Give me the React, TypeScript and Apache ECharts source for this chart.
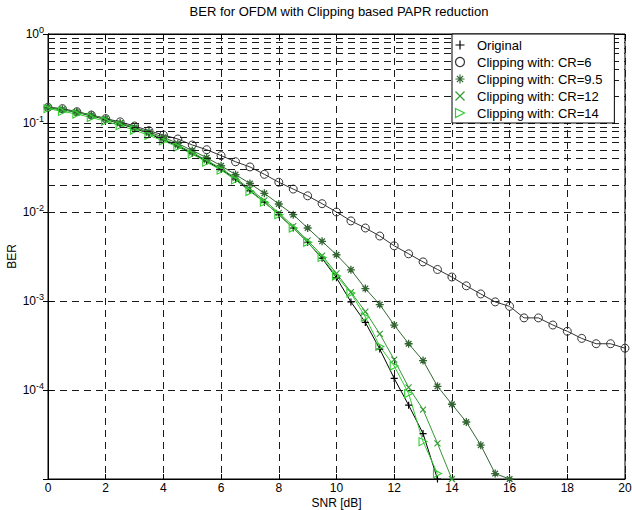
import React, { useEffect, useRef } from "react";
import * as echarts from "echarts";

const SNR = [0, 0.5, 1, 1.5, 2, 2.5, 3, 3.5, 4, 4.5, 5, 5.5, 6, 6.5, 7, 7.5, 8, 8.5, 9, 9.5, 10, 10.5, 11, 11.5, 12, 12.5, 13, 13.5, 14, 14.5, 15, 15.5, 16, 16.5, 17, 17.5, 18, 18.5, 19, 19.5, 20];

const BER_ORIGINAL = [0.148, 0.141, 0.132, 0.12, 0.11, 0.0977, 0.0871, 0.0759, 0.0646, 0.055, 0.0457, 0.0372, 0.0302, 0.0234, 0.0174, 0.0129, 0.00933, 0.00661, 0.00457, 0.00302, 0.00182, 0.000977, 0.000575, 0.000288, 0.000135, 0.0000676, 0.0000324, 0.00001];

const BER_CR6 = [0.15, 0.145, 0.134, 0.123, 0.112, 0.103, 0.0925, 0.082, 0.0733, 0.0661, 0.0566, 0.0501, 0.043, 0.0367, 0.0321, 0.0265, 0.0216, 0.0181, 0.0152, 0.0124, 0.01, 0.00794, 0.00661, 0.00537, 0.00417, 0.00339, 0.00275, 0.00226, 0.00186, 0.00148, 0.0012, 0.000977, 0.000871, 0.000646, 0.000646, 0.000537, 0.000457, 0.00038, 0.000331, 0.000331, 0.000295];

const BER_CR95 = [0.151, 0.143, 0.133, 0.123, 0.112, 0.1, 0.0891, 0.0794, 0.0692, 0.0589, 0.049, 0.0407, 0.0331, 0.0263, 0.0209, 0.0162, 0.0123, 0.00933, 0.00661, 0.00468, 0.00331, 0.00224, 0.00138, 0.000912, 0.000537, 0.000331, 0.000214, 0.00011, 0.0000692, 0.0000437, 0.000024, 0.0000115, 0.00001];

const BER_CR12 = [0.15, 0.141, 0.132, 0.122, 0.111, 0.0989, 0.0881, 0.0776, 0.0661, 0.0562, 0.0468, 0.038, 0.0309, 0.024, 0.0182, 0.0135, 0.00977, 0.00692, 0.00479, 0.00324, 0.00204, 0.00126, 0.000759, 0.000427, 0.000219, 0.000107, 0.0000603, 0.0000251, 0.00001];

const BER_CR14 = [0.145, 0.135, 0.126, 0.115, 0.105, 0.0933, 0.0832, 0.0724, 0.0631, 0.0537, 0.0447, 0.0363, 0.0295, 0.0229, 0.017, 0.0129, 0.00933, 0.00661, 0.00457, 0.00309, 0.00191, 0.00123, 0.000661, 0.000309, 0.000186, 0.0000912, 0.0000263, 0.0000115];

const SERIES_NAMES = ["Original", "Clipping with: CR=6", "Clipping with: CR=9.5", "Clipping with: CR=12", "Clipping with: CR=14"];

const DECADES = [1e-5, 1e-4, 1e-3, 1e-2, 1e-1];
const MINOR_MULTIPLIERS = [2, 3, 4, 5, 6, 7, 8, 9];

const SYM_PLUS = "path://M5,0L5,10M0,5L10,5";
const SYM_STAR = "path://M5,0L5,10M0,5L10,5M1.5,1.5L8.5,8.5M8.5,1.5L1.5,8.5";
const SYM_X = "path://M0,0L10,10M10,0L0,10";
const SYM_TRI = "path://M0,0L10,5L0,10Z";

const FONT = "Liberation Sans, Arial, Helvetica, sans-serif";

function pairs(ys: number[]) {
  return ys.map((y, i) => [SNR[i], y]);
}

export default function App() {
  const ref = useRef<HTMLDivElement>(null);
  useEffect(() => {
    if (!ref.current) return;
    const chart = echarts.init(ref.current, undefined, { renderer: "svg" });

    const minorLines: any[] = [];
    DECADES.forEach((d) => {
      MINOR_MULTIPLIERS.forEach((m) => minorLines.push({ yAxis: d * m }));
    });

    const gridDash = { color: "#1a1a1a", width: 1, type: [7, 5] as any };

    const mk = (
      name: string,
      data: number[],
      color: string,
      symbol: string,
      size: number,
      fill: string,
      bw: number
    ) => ({
      name,
      type: "line",
      data: pairs(data),
      symbol,
      symbolSize: size,
      showAllSymbol: true,
      lineStyle: { color, width: 1 },
      itemStyle: { color: fill, borderColor: color, borderWidth: bw },
      emphasis: { disabled: true },
      z: 3,
    });

    const series: any[] = [
      mk(SERIES_NAMES[0], BER_ORIGINAL, "#000000", SYM_PLUS, 7, "none", 1.2),
      mk(SERIES_NAMES[1], BER_CR6, "#333333", "circle", 8, "none", 1),
      mk(SERIES_NAMES[2], BER_CR95, "#336633", SYM_STAR, 8, "none", 1.3),
      mk(SERIES_NAMES[3], BER_CR12, "#339933", SYM_X, 6, "none", 1.1),
      mk(SERIES_NAMES[4], BER_CR14, "#33cc33", SYM_TRI, 8, "none", 1.1),
      {
        name: "minor",
        type: "line",
        data: [],
        silent: true,
        z: 1,
        markLine: {
          silent: true,
          symbol: "none",
          label: { show: false },
          lineStyle: gridDash,
          data: minorLines,
        },
      },
    ];

    const icons = [SYM_PLUS, "circle", SYM_STAR, SYM_X, SYM_TRI];
    const iconColors = ["#000000", "#333333", "#336633", "#339933", "#33cc33"];

    chart.setOption({
      animation: false,
      backgroundColor: "#ffffff",
      textStyle: { fontFamily: FONT },
      title: {
        text: "BER for OFDM with Clipping based PAPR reduction",
        left: 334,
        textAlign: "center",
        top: 0,
        textStyle: { fontSize: 13, fontWeight: "normal", color: "#000", fontFamily: FONT },
      },
      legend: {
        left: 452,
        top: 34,
        orient: "vertical",
        backgroundColor: "#ffffff",
        borderColor: "#000000",
        borderWidth: 1,
        borderRadius: 0,
        padding: [4, 12, 3, 1],
        itemWidth: 24,
        itemHeight: 9,
        itemGap: 3,
        symbolKeepAspect: true,
        textStyle: { fontSize: 13, lineHeight: 14, color: "#000", fontFamily: FONT },
        data: SERIES_NAMES.map((n, i) => ({
          name: n,
          icon: icons[i],
          itemStyle: { color: "none", borderColor: iconColors[i], borderWidth: 1.2 },
        })),
        z: 10,
      },
      grid: {
        left: 48,
        right: 7,
        top: 34,
        bottom: 31,
        show: true,
        borderColor: "#000",
        borderWidth: 1,
        backgroundColor: "transparent",
        outerBoundsMode: "none",
        containLabel: false,
      },
      xAxis: [
        {
          type: "value",
          min: 0,
          max: 20,
          interval: 2,
          name: "SNR [dB]",
          nameLocation: "middle",
          nameGap: 18,
          nameMoveOverlap: false,
          nameTextStyle: { fontSize: 12, color: "#000", fontFamily: FONT },
          axisLine: { show: true, lineStyle: { color: "#000" } },
          axisTick: { show: true, inside: true, length: 5, lineStyle: { color: "#000" } },
          axisLabel: { fontSize: 12, color: "#000", margin: 3, fontFamily: FONT },
          splitLine: { show: true, lineStyle: gridDash },
        },
        {
          type: "value",
          min: 0,
          max: 20,
          interval: 2,
          position: "top",
          axisLine: { show: true, lineStyle: { color: "#000" } },
          axisTick: { show: true, inside: true, length: 5, lineStyle: { color: "#000" } },
          axisLabel: { show: false },
          splitLine: { show: false },
        },
      ],
      yAxis: [
        {
          type: "log",
          logBase: 10,
          min: 1e-5,
          max: 1,
          name: "BER",
          nameLocation: "middle",
          nameGap: 30,
          nameMoveOverlap: false,
          nameTextStyle: { fontSize: 12, color: "#000", fontFamily: FONT },
          axisLine: { show: true, lineStyle: { color: "#000" } },
          axisTick: { show: true, inside: true, length: 5, lineStyle: { color: "#000" } },
          axisLabel: {
            margin: 4,
            color: "#000",
            fontSize: 12,
            fontFamily: FONT,
            formatter: (v: number) => {
              if (v < 1.5e-5) return "";
              const e = Math.round(Math.log10(v));
              return "10{sup|" + e + "}";
            },
            rich: {
              sup: { fontSize: 9, padding: [0, 0, 8, 0], color: "#000", fontFamily: FONT },
            },
          },
          splitLine: { show: true, lineStyle: gridDash },
        },
        {
          type: "log",
          logBase: 10,
          min: 1e-5,
          max: 1,
          position: "right",
          axisLine: { show: true, lineStyle: { color: "#000" } },
          axisTick: { show: true, inside: true, length: 5, lineStyle: { color: "#000" } },
          axisLabel: { show: false },
          splitLine: { show: false },
        },
      ],
      series,
    });

    return () => chart.dispose();
  }, []);

  return (
    <div
      ref={ref}
      style={{ position: "fixed", left: 0, top: 0, width: 632, height: 510, background: "#fff" }}
    />
  );
}
